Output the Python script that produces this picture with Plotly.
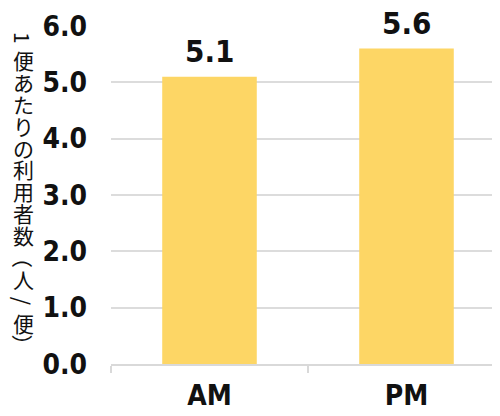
import plotly.graph_objects as go

categories = ["AM", "PM"]
values = [5.1, 5.6]
y_ticks = [0, 1, 2, 3, 4, 5, 6]
y_tick_labels = ["0.0", "1.0", "2.0", "3.0", "4.0", "5.0", "6.0"]
y_title = "1便あたりの利用者数（人/便）"
rotated_chars = {"1", "（", "/", "）"}

NUM_FONT = "DejaVu Sans Condensed, sans-serif"
CJK_FONT = "Noto Sans CJK JP"

fig = go.Figure()
fig.add_trace(go.Bar(
    x=categories, y=values,
    marker=dict(color="#FDD665", line=dict(width=0)),
    width=0.48,
    hoverinfo="skip",
))

for c, v in zip(categories, values):
    fig.add_annotation(
        x=c, y=v, xref="x", yref="y",
        text=f"{v:.1f}", showarrow=False,
        yanchor="bottom", yshift=6,
        font=dict(family=NUM_FONT, size=31, color="#111111", weight="bold"),
    )

# page body has an 8px default offset; layout is expressed in figure pixels
W, H = 500, 416
ml, mr, mt, mb = 103, 3, 18, 60
pw, ph = W - ml - mr, H - mt - mb

# vertical Japanese axis title, one character per annotation (pixel positions)
top, step = 30, 21.9
for i, ch in enumerate(y_title):
    px, py = 15, top + step * i
    fig.add_annotation(
        x=(px - ml) / pw, y=1 - (py - mt) / ph, xref="paper", yref="paper",
        text=ch, showarrow=False,
        xanchor="center", yanchor="middle",
        textangle=90 if ch in rotated_chars else 0,
        font=dict(family=CJK_FONT, size=21, color="#111111"),
    )

fig.update_layout(
    width=W, height=H,
    margin=dict(l=ml, r=mr, t=mt, b=mb, pad=0, autoexpand=False),
    plot_bgcolor="white", paper_bgcolor="white",
    showlegend=False,
)
fig.update_xaxes(
    range=[-0.5, 1.5],
    automargin=False,
    showgrid=False,
    showline=True, linecolor="#d9d9d9", linewidth=1.5,
    ticks="outside", tickson="boundaries", ticklen=7, tickcolor="#d9d9d9", tickwidth=1.5,
    tickfont=dict(family=NUM_FONT, size=28, color="#111111", weight="bold"),
    ticklabelstandoff=6,
)
fig.update_yaxes(
    range=[0, 6],
    automargin=False,
    tickvals=y_ticks, ticktext=y_tick_labels,
    showgrid=True, gridcolor="#dcdcdc", gridwidth=1.5,
    zeroline=False, showline=False,
    tickfont=dict(family=NUM_FONT, size=28, color="#111111", weight="bold"),
    ticklabelstandoff=23,
)

fig.write_html("out.html")
